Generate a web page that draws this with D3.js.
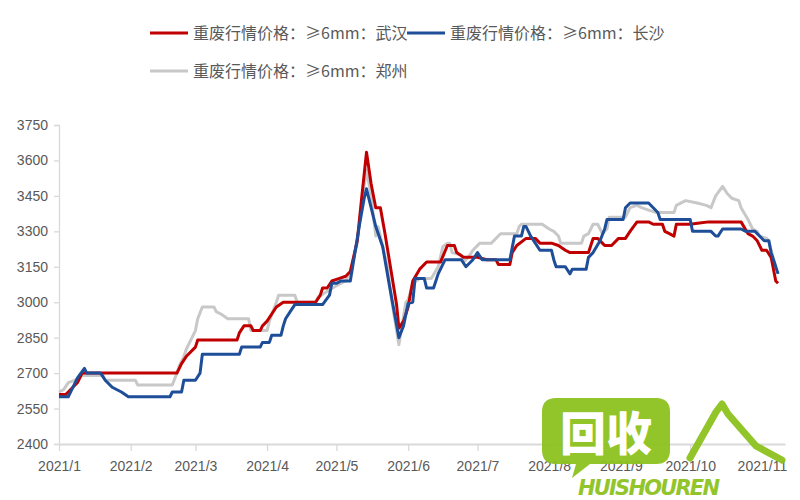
<!DOCTYPE html>
<html><head><meta charset="utf-8">
<script src="https://cdn.jsdelivr.net/npm/d3@7"></script>
<style>body{margin:0;background:#fff}svg{display:block}</style>
</head><body>
<svg id="chart" width="800" height="500"></svg>
<script>
const seriesNames = ["重废行情价格：≥6mm：武汉","重废行情价格：≥6mm：长沙","重废行情价格：≥6mm：郑州"];
const seriesColors = ["#c00000","#1f4e99","#c8c8c8"];
const yTicks = [2400,2550,2700,2850,3000,3150,3300,3450,3600,3750];
const xTickLabels = ["2021/1","2021/2","2021/3","2021/4","2021/5","2021/6","2021/7","2021/8","2021/9","2021/10","2021/11"];

const wuhan = [["01-01",2610],["01-04",2610],["01-05",2620],["01-07",2640],["01-09",2660],["01-11",2700],["02-21",2700],["02-23",2740],["02-25",2770],["03-01",2810],["03-02",2840],["03-19",2840],["03-20",2870],["03-22",2900],["03-25",2900],["03-26",2880],["03-29",2880],["03-30",2900],["04-01",2920],["04-03",2950],["04-05",2980],["04-08",3000],["04-22",3000],["04-24",3030],["04-25",3060],["04-27",3060],["04-29",3090],["05-02",3100],["05-05",3110],["05-07",3130],["05-10",3260],["05-12",3450],["05-14",3635],["05-16",3500],["05-18",3400],["05-20",3400],["05-22",3290],["05-27",2990],["05-28",2890],["05-30",2920],["06-01",2980],["06-03",3090],["06-06",3140],["06-09",3170],["06-15",3170],["06-18",3240],["06-21",3240],["06-22",3210],["06-25",3190],["07-01",3190],["07-05",3180],["07-09",3180],["07-10",3160],["07-15",3160],["07-16",3210],["07-18",3240],["07-22",3270],["07-26",3270],["07-28",3250],["08-02",3250],["08-05",3240],["08-08",3220],["08-10",3210],["08-18",3210],["08-20",3270],["08-22",3270],["08-24",3250],["08-25",3240],["08-28",3240],["08-31",3270],["09-03",3270],["09-05",3300],["09-08",3340],["09-13",3340],["09-15",3330],["09-19",3330],["09-20",3300],["09-22",3290],["09-24",3280],["09-25",3330],["10-01",3330],["10-05",3335],["10-09",3340],["10-23",3340],["10-26",3290],["10-28",3280],["10-30",3260],["11-01",3220],["11-03",3220],["11-05",3190],["11-07",3090],["11-08",3080]];

const changsha = [["01-01",2600],["01-05",2600],["01-07",2640],["01-09",2680],["01-12",2720],["01-13",2700],["01-19",2700],["01-21",2670],["01-24",2640],["01-28",2620],["01-31",2600],["02-18",2600],["02-19",2620],["02-23",2620],["02-24",2670],["03-01",2670],["03-03",2700],["03-04",2780],["03-20",2780],["03-21",2810],["03-29",2810],["03-30",2830],["04-02",2830],["04-03",2860],["04-07",2860],["04-08",2900],["04-09",2930],["04-11",2960],["04-13",2990],["04-25",2990],["04-28",3030],["04-29",3080],["05-01",3080],["05-03",3090],["05-07",3090],["05-09",3210],["05-11",3330],["05-13",3440],["05-14",3480],["05-16",3400],["05-18",3320],["05-21",3235],["05-24",3066],["05-28",2850],["05-30",2900],["06-01",2995],["06-03",3000],["06-04",3100],["06-08",3100],["06-09",3060],["06-12",3060],["06-14",3120],["06-17",3180],["06-24",3180],["06-26",3150],["06-29",3180],["07-01",3210],["07-03",3180],["07-15",3180],["07-16",3230],["07-17",3280],["07-20",3280],["07-21",3320],["07-22",3320],["07-24",3280],["07-26",3250],["07-28",3220],["08-02",3220],["08-03",3180],["08-04",3150],["08-08",3150],["08-10",3120],["08-11",3140],["08-17",3140],["08-18",3190],["08-20",3210],["08-23",3260],["08-25",3310],["08-26",3350],["09-02",3350],["09-03",3400],["09-05",3420],["09-13",3420],["09-15",3400],["09-17",3380],["09-18",3350],["10-01",3350],["10-02",3300],["10-10",3300],["10-12",3280],["10-13",3280],["10-15",3310],["10-23",3310],["10-25",3300],["10-29",3300],["10-31",3280],["11-02",3260],["11-04",3260],["11-05",3210],["11-07",3150],["11-08",3120]];

const zhengzhou = [["01-01",2620],["01-03",2630],["01-05",2660],["01-08",2670],["01-11",2690],["01-20",2690],["01-21",2670],["02-03",2670],["02-04",2650],["02-19",2650],["02-21",2700],["02-22",2730],["02-24",2770],["02-25",2800],["02-28",2860],["03-01",2880],["03-02",2930],["03-04",2980],["03-09",2980],["03-10",2960],["03-12",2950],["03-15",2930],["03-24",2930],["03-25",2880],["04-01",2880],["04-02",2920],["04-05",3000],["04-06",3030],["04-13",3030],["04-14",3000],["04-22",3000],["04-23",3020],["04-26",3040],["05-01",3070],["05-05",3090],["05-07",3130],["05-10",3250],["05-12",3430],["05-14",3560],["05-16",3450],["05-18",3280],["05-19",3320],["05-20",3280],["05-23",3150],["05-25",3000],["05-28",2820],["05-31",3000],["06-01",3010],["06-03",3080],["06-06",3100],["06-11",3100],["06-14",3150],["06-16",3235],["06-18",3250],["06-19",3250],["06-20",3210],["06-24",3200],["06-25",3170],["06-27",3190],["06-29",3220],["07-02",3250],["07-07",3250],["07-10",3280],["07-11",3290],["07-18",3290],["07-19",3320],["07-20",3330],["07-29",3330],["08-01",3310],["08-03",3300],["08-05",3280],["08-06",3250],["08-15",3250],["08-16",3280],["08-18",3290],["08-20",3330],["08-22",3330],["08-24",3290],["08-26",3310],["08-27",3360],["09-03",3360],["09-05",3400],["09-08",3410],["09-10",3400],["09-13",3390],["09-16",3380],["09-24",3380],["09-25",3410],["09-29",3430],["10-04",3420],["10-08",3410],["10-10",3400],["10-12",3450],["10-15",3490],["10-17",3460],["10-19",3440],["10-22",3430],["10-23",3400],["10-26",3350],["10-28",3310],["10-30",3300],["10-31",3280],["11-03",3270],["11-04",3260],["11-05",3220],["11-07",3150]];

const svg = d3.select("#chart");
const parse = s => new Date(Date.UTC(2021, +s.slice(0,2)-1, +s.slice(3,5)));
const x = d3.scaleUtc().domain([new Date(Date.UTC(2021,0,1)), new Date(Date.UTC(2021,10,11))]).range([59, 785]);
const y = d3.scaleLinear().domain([2400, 3750]).range([444, 125]);
const axisColor = "#d9d9d9", textColor = "#595959";
const font = "'Liberation Sans', Arial, sans-serif";

// Y axis
const yAxis = svg.append("g").attr("transform","translate(59,0)")
  .call(d3.axisLeft(y).tickValues(yTicks).tickSize(5).tickPadding(6).tickFormat(d3.format("d")));
yAxis.select(".domain").attr("stroke", axisColor).attr("stroke-width",1.3);
yAxis.selectAll(".tick line").attr("stroke", axisColor).attr("stroke-width",1.3);
yAxis.selectAll("text").attr("fill", textColor).style("font-family", font).style("font-size","14px");

// X axis
const monthTicks = d3.range(0,11).map(m => new Date(Date.UTC(2021,m,1)));
const xAxis = svg.append("g").attr("transform","translate(0,444)")
  .call(d3.axisBottom(x).tickValues(monthTicks).tickSizeInner(7).tickSizeOuter(0).tickPadding(10)
    .tickFormat((d,i) => xTickLabels[i]));
xAxis.select(".domain").attr("stroke", axisColor).attr("stroke-width",2);
xAxis.selectAll(".tick line").attr("stroke", axisColor).attr("stroke-width",1.3);
xAxis.selectAll("text").attr("fill", textColor).style("font-family", font).style("font-size","14px");

// Lines
const line = d3.line().x(d => x(parse(d[0]))).y(d => y(d[1]));
const data = [wuhan, changsha, zhengzhou];
[2,0,1].forEach(i => {
  svg.append("path").datum(data[i]).attr("d", line)
    .attr("fill","none").attr("stroke", seriesColors[i]).attr("stroke-width",3)
    .attr("stroke-linejoin","round");
});

// Legend
const legendPos = [[150,33],[407,33],[150,71]];
legendPos.forEach((p,i) => {
  const g = svg.append("g").attr("transform",`translate(${p[0]},${p[1]})`);
  g.append("line").attr("x1",0).attr("x2",38).attr("y1",0).attr("y2",0)
    .attr("stroke", seriesColors[i]).attr("stroke-width",3);
  g.append("text").attr("x",43).attr("y",0).attr("dy","0.36em")
    .attr("fill", textColor).style("font-family","'Noto Sans CJK SC', sans-serif").style("font-size","16px")
    .text(seriesNames[i]);
});

// Watermark (approximate)
const wm = svg.append("g").attr("opacity",0.95);
wm.append("path").attr("d","M556,398 H656 Q670,398 670,412 V450 Q670,464 656,464 H590 L572,478 L576,464 H556 Q542,464 542,450 V412 Q542,398 556,398 Z")
  .attr("fill","#8dc21f");
wm.append("text").attr("x",606).attr("y",450).attr("text-anchor","middle")
  .attr("fill","#fff").style("font-family","'Noto Sans CJK SC', sans-serif").style("font-weight","900").style("font-size","46px").text("回收");
wm.append("path").attr("d","M690,458 L716,412 L722,404 L728,414 L756,446 L782,460")
  .attr("fill","none").attr("stroke","#8dc21f").attr("stroke-width",7).attr("stroke-linecap","round").attr("stroke-linejoin","round");
wm.append("text").attr("x",578).attr("y",495).attr("fill","#8dc21f")
  .style("font-family","'DejaVu Sans', sans-serif").style("font-weight","bold").style("font-style","italic").style("font-size","21px").attr("textLength",142).text("HUISHOUREN");
</script>
</body></html>
